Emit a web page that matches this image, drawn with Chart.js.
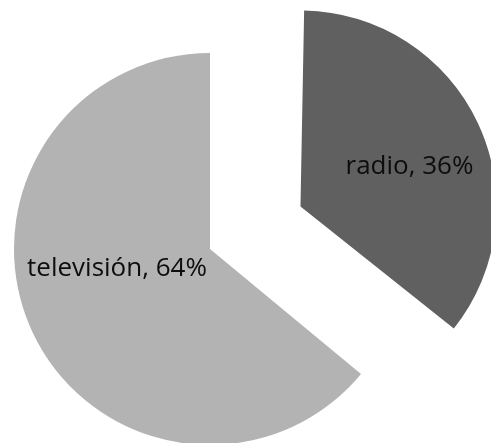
<!DOCTYPE html>
<html>
<head>
<meta charset="utf-8">
<script src="https://cdn.jsdelivr.net/npm/chart.js@4/dist/chart.umd.min.js"></script>
<style>
  html, body { margin: 0; padding: 0; background: #fff; }
  #wrap { width: 491px; height: 443px; }
</style>
</head>
<body>
<div id="wrap"><canvas id="pizza" width="491" height="443"></canvas></div>
<script>
// ========= Dados =========
const categorias = ["radio", "televisión"];
const valores = [36, 64];
const cores = ["#606060", "#b3b3b3"];
const destaques = [100, 0]; // fatia "explodida" (px)

// deslocamento de cada rótulo em relação ao centro da fatia
const rotuloDesloc = [[109, -40], [-93, 20]];

// ========= Plugin: raio igual para fatia explodida =========
// o Chart.js aumenta o raio da fatia com offset; aqui desfaz isso
const raioFixo = {
  id: "raioFixo",
  afterDatasetUpdate(chart, args) {
    args.meta.data.forEach((arc) => {
      const off = (arc.options.offset || 0) / 4;
      const fix = 1 - Math.sin(Math.min(Math.PI, arc.circumference || 0));
      arc.outerRadius -= off * fix;
    });
  },
};

// ========= Plugin de rótulos =========
const rotulos = {
  id: "rotulos",
  afterDatasetsDraw(chart) {
    const ctx = chart.ctx;
    const meta = chart.getDatasetMeta(0);
    const total = valores.reduce((a, b) => a + b, 0);
    ctx.save();
    ctx.font = "26px 'Open Sans'";
    ctx.fillStyle = "#0d0d0d";
    ctx.textAlign = "center";
    ctx.textBaseline = "middle";
    meta.data.forEach((arc, i) => {
      const mid = (arc.startAngle + arc.endAngle) / 2;
      const off = destaques[i];
      const cx = arc.x + Math.cos(mid) * off;
      const cy = arc.y + Math.sin(mid) * off;
      const pct = Math.round((valores[i] / total) * 100);
      const [dx, dy] = rotuloDesloc[i];
      ctx.fillText(`${categorias[i]}, ${pct}%`, cx + dx, cy + dy);
    });
    ctx.restore();
  },
};

// ========= Gráfico =========
new Chart(document.getElementById("pizza"), {
  type: "pie",
  data: {
    labels: categorias,
    datasets: [{
      data: valores,
      backgroundColor: cores,
      borderWidth: 0,
      // o Chart.js divide o offset por 4 na hora de desenhar
      offset: destaques.map((d) => d * 4),
      hoverOffset: 0,
      radius: 196,
    }],
  },
  options: {
    responsive: false,
    animation: false,
    cutout: "0%", // evita NaN quando o offset é maior que a área
    layout: { padding: { left: 0, right: 71, top: 55, bottom: 0 } },
    plugins: {
      legend: { display: false },
      tooltip: { enabled: false },
    },
  },
  plugins: [raioFixo, rotulos],
});
</script>
</body>
</html>
